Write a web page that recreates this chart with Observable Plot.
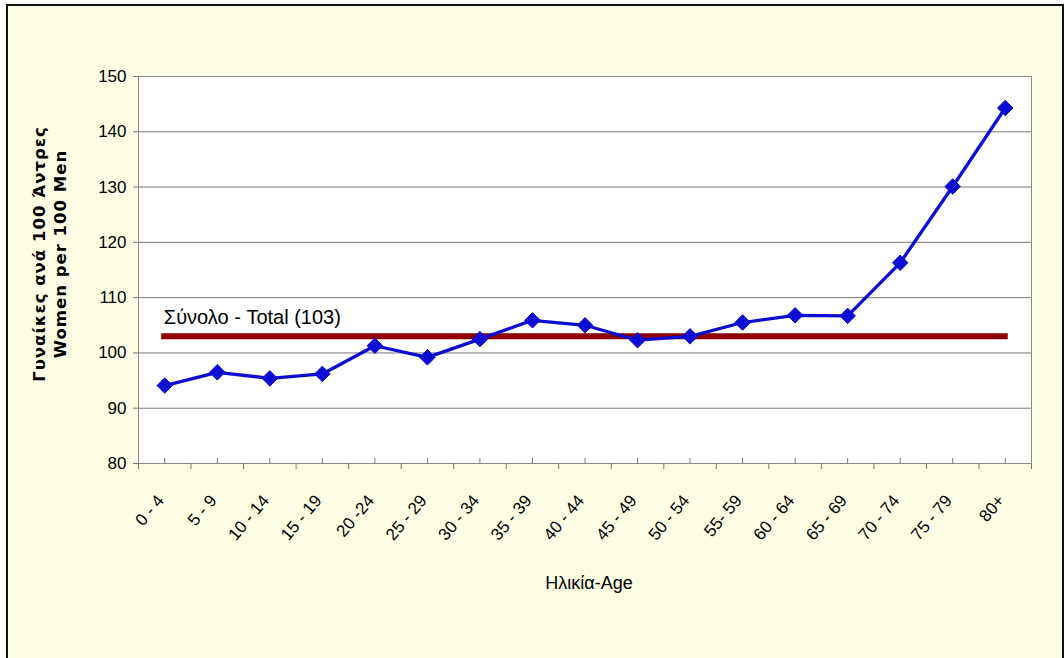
<!DOCTYPE html>
<html><head><meta charset="utf-8">
<script src="https://cdn.jsdelivr.net/npm/d3@7"></script>
<script src="https://cdn.jsdelivr.net/npm/@observablehq/plot@0.6"></script>
<style>
html,body{margin:0;padding:0;background:#fff;}
#wrap{position:relative;width:1064px;height:658px;overflow:hidden;}
#panel{position:absolute;left:6px;top:4px;width:1054px;height:720px;border:2px solid #111;background:#fefee4;}
#chart{position:absolute;left:0;top:0;}
</style></head><body>
<div id="wrap"><div id="panel"></div><div id="chart"></div></div>
<script>
const ageGroups = ["0 - 4","5 - 9","10 - 14","15 - 19","20 -24","25 - 29","30 - 34","35 - 39","40 - 44","45 - 49","50 - 54","55- 59","60 - 64","65 - 69","70 - 74","75 - 79","80+"];
const ratios = [94.1, 96.5, 95.4, 96.2, 101.3, 99.2, 102.5, 105.9, 105.0, 102.3, 103.0, 105.5, 106.8, 106.7, 116.3, 130.1, 144.3];
const totalRatio = 103;
const yTicks = [80, 90, 100, 110, 120, 130, 140, 150];
const totalLabel = "Σύνολο - Total (103)";
const yTitleGreek = "Γυναίκες ανά 100 Άντρες";
const yTitleEnglish = "Women per 100 Men";
const xTitle = "Ηλικία-Age";

const data = ageGroups.map((g, i) => ({i, group: g, ratio: ratios[i]}));
const centers = d3.range(ageGroups.length);
const bounds = d3.range(ageGroups.length + 1).map(i => i - 0.5);
const lineBlue = "#0c0cd2";

const chart = Plot.plot({
  width: 1064, height: 658,
  marginLeft: 138, marginRight: 33, marginTop: 76, marginBottom: 195,
  style: {background: "transparent", fontFamily: "'Liberation Sans', Arial, sans-serif", color: "#000", overflow: "visible"},
  x: {type: "linear", domain: [-0.5, ageGroups.length - 0.5]},
  y: {domain: [80, 150]},
  marks: [
    Plot.frame({fill: "#fff"}),
    Plot.gridY(yTicks, {stroke: "#777", strokeOpacity: 1, strokeWidth: 1}),
    Plot.frame({stroke: "#888"}),
    Plot.axisY({ticks: yTicks, tickSize: 5, tickPadding: 7, fontSize: 17, label: null, stroke: "#777"}),
    Plot.axisX({ticks: bounds, tickSize: 6, tickFormat: () => "", label: null, stroke: "#777"}),
    Plot.axisX({ticks: centers, tickSize: -5, tickFormat: () => "", label: null, stroke: "#777"}),
    Plot.text(data, {x: "i", text: "group", frameAnchor: "bottom", rotate: -50, textAnchor: "end", lineAnchor: "middle", dx: -4, dy: 34, fontSize: 17}),
    Plot.ruleY([totalRatio], {y: d => d, x1: () => 0, x2: () => ageGroups.length - 1, stroke: "#8c0000", strokeWidth: 6, strokeLinecap: "square"}),
    Plot.text([totalLabel], {x: () => 0, y: () => totalRatio, text: d => d, textAnchor: "start", lineAnchor: "middle", dx: -1, dy: -19, fontSize: 20}),
    Plot.line(data, {x: "i", y: "ratio", stroke: lineBlue, strokeWidth: 3.3}),
    Plot.dot(data, {x: "i", y: "ratio", symbol: "diamond2", r: 7, fill: lineBlue, stroke: lineBlue, strokeWidth: 1}),
    Plot.text([yTitleGreek], {text: d => d, frameAnchor: "left", textAnchor: "middle", lineAnchor: "middle", rotate: -90, dx: -99, dy: -16, fontSize: 16.5, fontWeight: "bold", fontFamily: "'DejaVu Sans', sans-serif", className: "ytitle"}),
    Plot.text([yTitleEnglish], {text: d => d, frameAnchor: "left", textAnchor: "middle", lineAnchor: "middle", rotate: -90, dx: -78, dy: -16, fontSize: 16.5, fontWeight: "bold", fontFamily: "'DejaVu Sans', sans-serif", className: "ytitle"}),
    Plot.text([xTitle], {text: d => d, frameAnchor: "bottom", textAnchor: "middle", lineAnchor: "middle", dx: 4, dy: 120, fontSize: 18})
  ]
});
d3.select(chart).selectAll(".ytitle text").attr("letter-spacing", "1px");
document.getElementById("chart").appendChild(chart);
</script>
</body></html>
